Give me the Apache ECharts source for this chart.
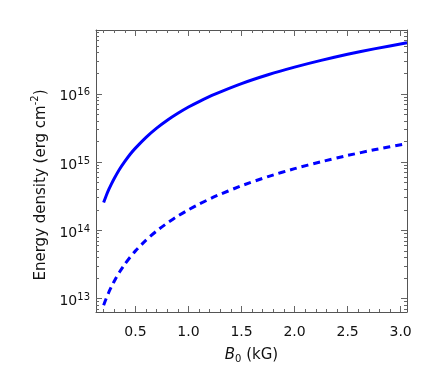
<!DOCTYPE html>
<html><head><meta charset="utf-8">
<script src="https://cdn.jsdelivr.net/npm/echarts@6/dist/echarts.min.js"></script>
<style>html,body{margin:0;padding:0;background:#fff}#c{width:436px;height:374px}</style>
</head><body><div id="c"></div>
<script>
// B0 in kG
const bField = [0.2, 0.225, 0.25, 0.275, 0.3, 0.35, 0.4, 0.45, 0.5, 0.6, 0.7, 0.8, 0.9, 1.0, 1.1, 1.25, 1.5, 1.75, 2.0, 2.25, 2.5, 2.75, 3.06];
// energy density, solid curve
const solidEnergy = [2.56e14, 3.24e14, 4.0e14, 4.84e14, 5.76e14, 7.84e14, 1.02e15, 1.30e15, 1.60e15, 2.30e15, 3.14e15, 4.10e15, 5.18e15, 6.40e15, 7.70e15, 9.87e15, 1.41e16, 1.90e16, 2.46e16, 3.09e16, 3.79e16, 4.55e16, 5.60e16];
// energy density, dashed curve
const dashedEnergy = [8.0e12, 1.01e13, 1.25e13, 1.51e13, 1.80e13, 2.45e13, 3.20e13, 4.05e13, 5.0e13, 7.2e13, 9.8e13, 1.28e14, 1.62e14, 2.0e14, 2.42e14, 3.13e14, 4.5e14, 6.13e14, 8.0e14, 1.01e15, 1.25e15, 1.51e15, 1.87e15];

const xMajorTicks = [0.5, 1.0, 1.5, 2.0, 2.5, 3.0];
const xMinorTicks = [0.2, 0.3, 0.4, 0.6, 0.7, 0.8, 0.9, 1.1, 1.2, 1.3, 1.4, 1.6, 1.7, 1.8, 1.9, 2.1, 2.2, 2.3, 2.4, 2.6, 2.7, 2.8, 2.9];
const yMajorTicks = [1e13, 1e14, 1e15, 1e16];
const yMinorTicks = [7e12, 8e12, 9e12,
  2e13, 3e13, 4e13, 5e13, 6e13, 7e13, 8e13, 9e13,
  2e14, 3e14, 4e14, 5e14, 6e14, 7e14, 8e14, 9e14,
  2e15, 3e15, 4e15, 5e15, 6e15, 7e15, 8e15, 9e15,
  2e16, 3e16, 4e16, 5e16, 6e16, 7e16, 8e16];

const X_MIN = 0.128, X_MAX = 3.06, Y_MIN = 6.36e12, Y_MAX = 8.6e16;
const FONT = 'DejaVu Sans';
const TXT = '#111';
const LINE = '#555';
const TICK = '#666';

function zip(xs, ys) { return xs.map((x, i) => [x, ys[i]]); }

function xAx(position, ticks, len, showLine, showLabel, extra) {
  return Object.assign({
    type: 'value', position: position, min: X_MIN, max: X_MAX,
    axisLine: { show: showLine, onZero: false, lineStyle: { color: LINE, width: 1 } },
    axisTick: { show: true, inside: true, length: len, customValues: ticks, lineStyle: { color: TICK, width: 1 } },
    axisLabel: { show: showLabel, customValues: ticks, margin: 13, color: TXT, fontFamily: FONT, fontSize: 14,
      formatter: v => Number(v).toFixed(1) },
    splitLine: { show: false }
  }, extra || {});
}
function yAx(position, ticks, len, showLine, showLabel, extra) {
  return Object.assign({
    type: 'log', logBase: 10, position: position, min: Y_MIN, max: Y_MAX,
    axisLine: { show: showLine, onZero: false, lineStyle: { color: LINE, width: 1 } },
    axisTick: { show: true, inside: true, length: len, customValues: ticks, lineStyle: { color: TICK, width: 1 } },
    axisLabel: { show: showLabel, customValues: ticks, margin: 6, color: TXT, fontFamily: FONT,
      formatter: v => '{b|10}{s|' + Math.round(Math.log10(v)) + '}',
      rich: {
        b: { fontSize: 14, fontFamily: FONT, color: TXT, padding: [6, 0, 0, 0], lineHeight: 16 },
        s: { fontSize: 10, fontFamily: FONT, color: TXT, verticalAlign: 'top', lineHeight: 10, padding: [2, 0, 0, 0] }
      } },
    splitLine: { show: false }
  }, extra || {});
}

const chart = echarts.init(document.getElementById('c'), null, { renderer: 'canvas' });
chart.setOption({
  animation: false,
  backgroundColor: '#fff',
  grid: { left: 96, right: 29, top: 30, bottom: 62, containLabel: false },
  xAxis: [
    xAx('bottom', xMajorTicks, 6, true, true, {
      name: '{i|B}{sub|0}{n| (kG)}', nameLocation: 'middle', nameGap: 34,
      nameTextStyle: { color: TXT, fontFamily: FONT, fontSize: 15,
        rich: {
          i: { fontFamily: FONT, fontSize: 15, fontStyle: 'italic', color: TXT, lineHeight: 18 },
          sub: { fontFamily: FONT, fontSize: 10, color: TXT, verticalAlign: 'bottom', lineHeight: 10 },
          n: { fontFamily: FONT, fontSize: 15, color: TXT, lineHeight: 18 }
        } }
    }),
    xAx('bottom', xMinorTicks, 3, false, false),
    xAx('top', xMajorTicks, 6, true, false),
    xAx('top', xMinorTicks, 3, false, false)
  ],
  yAxis: [
    yAx('left', yMajorTicks, 6, true, true, {
      name: '{n|Energy density (erg cm}{sup|-2}{n|)}', nameLocation: 'middle', nameGap: 48,
      nameTextStyle: { color: TXT, fontFamily: FONT, fontSize: 15, padding: [0, 28, 0, 0],
        rich: {
          n: { fontFamily: FONT, fontSize: 15, color: TXT, lineHeight: 17, padding: [5, 0, 0, 0] },
          sup: { fontFamily: FONT, fontSize: 10, color: TXT, verticalAlign: 'top', lineHeight: 10 }
        } }
    }),
    yAx('left', yMinorTicks, 3, false, false),
    yAx('right', yMajorTicks, 6, true, false),
    yAx('right', yMinorTicks, 3, false, false)
  ],
  series: [
    { type: 'line', xAxisIndex: 0, yAxisIndex: 0, data: zip(bField, solidEnergy), showSymbol: false, smooth: 0.2,
      lineStyle: { color: '#0000ff', width: 3 }, itemStyle: { color: '#0000ff' } },
    { type: 'line', xAxisIndex: 0, yAxisIndex: 0, data: zip(bField, dashedEnergy), showSymbol: false, smooth: 0.2,
      lineStyle: { color: '#0000ff', width: 3, type: [7, 5] }, itemStyle: { color: '#0000ff' } }
  ]
});
</script></body></html>
